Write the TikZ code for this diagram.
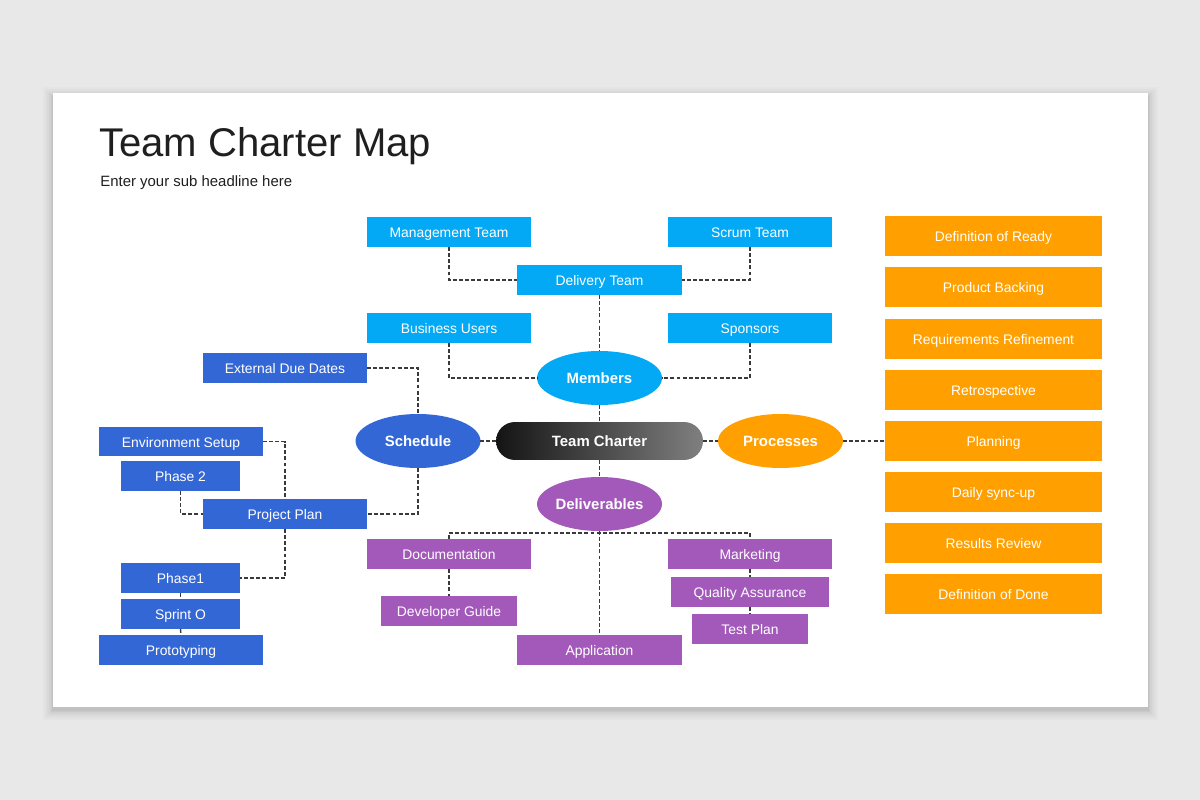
\documentclass[tikz,border=0pt]{standalone}
\usepackage{fontspec}
\setmainfont{Liberation Sans}
\usetikzlibrary{shapes.geometric}
\definecolor{bgc}{HTML}{E9E8E9}
\definecolor{lblue}{HTML}{03A9F4}
\definecolor{dblue}{HTML}{3367D6}
\definecolor{purp}{HTML}{A259BA}
\definecolor{orng}{HTML}{FFA000}
\definecolor{linec}{HTML}{3A3A3A}
\tikzset{
  box/.style={rectangle, inner sep=0pt, outer sep=0pt, minimum height=0.6cm, minimum width=3.28cm, text=white, font=\fontsize{7.9}{9}\selectfont, text height=0.74em, text depth=0.08em},
  lb/.style={box, fill=lblue},
  db/.style={box, fill=dblue},
  pb/.style={box, fill=purp},
  ob/.style={box, fill=orng, minimum width=4.34cm, minimum height=0.8cm},
  oval/.style={ellipse, inner sep=0pt, outer sep=0pt, minimum width=2.5cm, minimum height=1.08cm, text=white, font=\fontsize{8.5}{10}\selectfont\bfseries, text height=0.74em, text depth=0.08em},
  conn/.style={draw=linec, line width=0.8pt, dash pattern=on 2.2pt off 1.3pt},
}
\begin{document}
\begin{tikzpicture}[x=0.02cm, y=-0.02cm]
\fill[bgc] (0,0) rectangle (1200,800);
\useasboundingbox (0,0) rectangle (1200,800);
% card shadow
\foreach \d/\o in {10/0.015,8/0.02,6/0.025,4/0.03,2/0.04,1/0.04}{
  \fill[black, opacity=\o] (53-\d,93-\d+4) rectangle (1148+\d,707+\d+3);
}
\fill[white] (53,93) rectangle (1148,707);
% titles
\node[anchor=base west, inner sep=0pt, text=black!88, font=\fontsize{22.8}{27}\selectfont] (title) at (99,157) {Team Charter Map};
\node[anchor=base west, inner sep=0pt, text=black!88, font=\fontsize{8.5}{10}\selectfont] (sub) at (100,187) {Enter your sub headline here};

% members branch
\node[lb] (mgmt) at (449,232) {Management Team};
\node[lb] (scrum) at (750,232) {Scrum Team};
\node[lb, minimum width=3.3cm] (deliv) at (599.5,280) {Delivery Team};
\node[lb] (bus) at (449,328) {Business Users};
\node[lb] (spons) at (750,328) {Sponsors};
\node[oval, fill=lblue] (members) at (599.5,378) {Members};

% center
\node[rectangle, rounded corners=0.38cm, minimum width=4.14cm, minimum height=0.76cm, inner sep=0pt, outer sep=0pt, left color=black!92, right color=black!50, text=white, font=\fontsize{8.5}{10}\selectfont\bfseries, text height=0.74em, text depth=0.08em] (tc) at (599.5,441) {Team Charter};
\node[oval, fill=dblue] (sched) at (418,441) {Schedule};
\node[oval, fill=orng] (proc) at (780.5,441) {Processes};
\node[oval, fill=purp] (delv) at (599.5,504) {Deliverables};

% schedule branch
\node[db] (ext) at (285,368) {External Due Dates};
\node[db] (env) at (181,441.5) {Environment Setup};
\node[db, minimum width=2.38cm] (ph2) at (180.5,476) {Phase 2};
\node[db] (pp) at (285,514) {Project Plan};
\node[db, minimum width=2.38cm] (ph1) at (180.5,578) {Phase1};
\node[db, minimum width=2.38cm] (spr) at (180.5,614) {Sprint O};
\node[db] (proto) at (181,650) {Prototyping};

% deliverables branch
\node[pb] (doc) at (449,554) {Documentation};
\node[pb, minimum width=2.72cm] (devg) at (449,611) {Developer Guide};
\node[pb, minimum width=3.3cm] (app) at (599.5,650) {Application};
\node[pb] (mkt) at (750,554) {Marketing};
\node[pb, minimum width=3.16cm] (qa) at (750,592) {Quality Assurance};
\node[pb, minimum width=2.32cm] (tp) at (750,629) {Test Plan};

% processes list
\node[ob] (p1) at (993.5,236) {Definition of Ready};
\node[ob] (p2) at (993.5,287) {Product Backing};
\node[ob] (p3) at (993.5,339) {Requirements Refinement};
\node[ob] (p4) at (993.5,390) {Retrospective};
\node[ob] (p5) at (993.5,441) {Planning};
\node[ob] (p6) at (993.5,492) {Daily sync-up};
\node[ob] (p7) at (993.5,543) {Results Review};
\node[ob] (p8) at (993.5,594) {Definition of Done};

% connectors
\draw[conn] (mgmt.south) |- (deliv.west);
\draw[conn] (scrum.south) |- (deliv.east);
\draw[conn] (deliv.south) -- (members.north);
\draw[conn] (bus.south) |- (members.west);
\draw[conn] (spons.south) |- (members.east);
\draw[conn] (members.south) -- (tc.north);
\draw[conn] (tc.west) -- (sched.east);
\draw[conn] (tc.east) -- (proc.west);
\draw[conn] (proc.east) -- (p5.west);
\draw[conn] (tc.south) -- (delv.north);

\draw[conn] (ext.east) -| (sched.north);
\draw[conn] (sched.south) |- (pp.east);
\draw[conn] (env.east) -| (pp.north);
\draw[conn] (ph2.south) |- (pp.west);
\draw[conn] (pp.south) |- (ph1.east);
\draw[conn] (ph1.south) -- (spr.north);
\draw[conn] (spr.south) -- (proto.north);

\coordinate (dj) at (599.5,533);
\draw[conn] (delv.south) -- (app.north);
\draw[conn] (doc.north) |- (dj) -| (mkt.north);
\draw[conn] (doc.south) -- (devg.north);
\draw[conn] (mkt.south) -- (qa.north);
\draw[conn] (qa.south) -- (tp.north);
\end{tikzpicture}
\end{document}
